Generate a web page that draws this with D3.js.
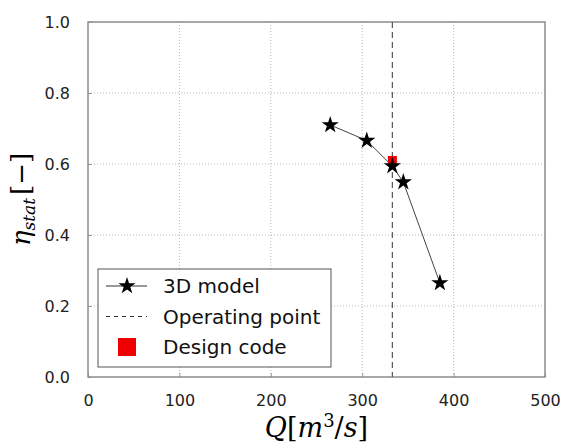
<!DOCTYPE html>
<html>
<head>
<meta charset="utf-8">
<script src="https://cdn.jsdelivr.net/npm/d3@7"></script>
<style>
  body { margin: 0; background: #fff; }
  text { font-family: "DejaVu Sans", sans-serif; }
</style>
</head>
<body>
<div id="chart"></div>
<script>
// data
const flowQ = [265, 305, 333, 345, 385];
const etaStat = [0.71, 0.666, 0.594, 0.549, 0.265];
const operatingQ = [333];
const designQ = [333];
const designEta = [0.61];
const xTicks = [0, 100, 200, 300, 400, 500];
const yTicks = [0.0, 0.2, 0.4, 0.6, 0.8, 1.0];
const legendItems = ["3D model", "Operating point", "Design code"];

const W = 561, H = 448;
const margin = { top: 22, right: 16, bottom: 71, left: 88 };
const width = W - margin.left - margin.right;
const height = H - margin.top - margin.bottom;

const svg = d3.select("#chart").append("svg")
  .attr("width", W).attr("height", H);
const g = svg.append("g")
  .attr("transform", `translate(${margin.left},${margin.top})`);

const x = d3.scaleLinear().domain([0, 500]).range([0, width]);
const y = d3.scaleLinear().domain([0, 1]).range([height, 0]);

// grid
g.selectAll(".gx").data(xTicks.slice(1, -1)).enter().append("line")
  .attr("x1", d => x(d)).attr("x2", d => x(d))
  .attr("y1", 0).attr("y2", height)
  .attr("stroke", "#b8b8b8").attr("stroke-width", 1)
  .attr("stroke-dasharray", "1,2");
g.selectAll(".gy").data(yTicks.slice(1, -1)).enter().append("line")
  .attr("x1", 0).attr("x2", width)
  .attr("y1", d => y(d)).attr("y2", d => y(d))
  .attr("stroke", "#b8b8b8").attr("stroke-width", 1)
  .attr("stroke-dasharray", "1,2");

// axes
const xAxis = d3.axisBottom(x).tickValues(xTicks).tickSize(-4).tickPadding(18)
  .tickFormat(d3.format("d"));
const yAxis = d3.axisLeft(y).tickValues(yTicks).tickSize(-4).tickPadding(18)
  .tickFormat(d3.format(".1f"));

const gx = g.append("g").attr("transform", `translate(0,${height})`).call(xAxis);
const gy = g.append("g").call(yAxis);
[gx, gy].forEach(a => {
  a.select(".domain").remove();
  a.selectAll("line").attr("stroke", "#999");
  a.selectAll("text").attr("font-size", "16px").attr("fill", "#222")
    .style("font-family", "'DejaVu Sans', sans-serif");
});

// frame
g.append("rect").attr("width", width).attr("height", height)
  .attr("fill", "none").attr("stroke", "#8c8c8c").attr("stroke-width", 1.5);

// operating point
g.selectAll(".op").data(operatingQ).enter().append("line")
  .attr("x1", d => x(d)).attr("x2", d => x(d))
  .attr("y1", 0).attr("y2", height)
  .attr("stroke", "#555").attr("stroke-width", 1.2)
  .attr("stroke-dasharray", "6,4");

// 3D model line
const pts = flowQ.map((q, i) => [q, etaStat[i]]);
g.append("path").datum(pts)
  .attr("fill", "none").attr("stroke", "#444").attr("stroke-width", 1)
  .attr("d", d3.line().x(d => x(d[0])).y(d => y(d[1])));

// design code
g.selectAll(".design").data(designQ).enter().append("rect")
  .attr("x", d => x(d) - 4.5).attr("y", (d, i) => y(designEta[i]) - 4.5)
  .attr("width", 9).attr("height", 9).attr("fill", "#ee0000");

const star = d3.symbol().type(d3.symbolStar).size(92);
g.selectAll(".star").data(pts).enter().append("path")
  .attr("d", star)
  .attr("transform", d => `translate(${x(d[0])},${y(d[1])})`)
  .attr("fill", "#000");

// legend
const lg = g.append("g").attr("transform", `translate(10,247)`);
lg.append("rect").attr("width", 233).attr("height", 98)
  .attr("fill", "#fff").attr("stroke", "#555").attr("stroke-width", 1);
legendItems.forEach((label, i) => {
  const cy = 17 + i * 30.5;
  lg.append("text").attr("x", 65).attr("y", cy).attr("dy", "0.35em")
    .attr("font-size", "20px").attr("fill", "#111").text(label);
});
lg.append("line").attr("x1", 8).attr("x2", 49).attr("y1", 17).attr("y2", 17)
  .attr("stroke", "#333");
lg.append("path").attr("d", star).attr("transform", "translate(29,17)");
lg.append("line").attr("x1", 8).attr("x2", 49).attr("y1", 47.5).attr("y2", 47.5)
  .attr("stroke", "#333").attr("stroke-dasharray", "4,4");
lg.append("rect").attr("x", 20).attr("y", 69).attr("width", 18).attr("height", 18)
  .attr("fill", "#ee0000");

// axis labels
const xl = svg.append("text")
  .attr("x", margin.left + width / 2).attr("y", 437)
  .attr("text-anchor", "middle")
  .style("font-family", "'DejaVu Serif', serif").attr("font-size", "27px");
xl.append("tspan").attr("font-style", "italic").text("Q");
xl.append("tspan").text("[");
xl.append("tspan").attr("font-style", "italic").text("m");
xl.append("tspan").attr("font-size", "18px").attr("dy", "-10").text("3");
xl.append("tspan").attr("dy", "10").text("/");
xl.append("tspan").attr("font-style", "italic").text("s");
xl.append("tspan").text("]");

const yl = svg.append("text")
  .attr("transform", `translate(30,${margin.top + height / 2}) rotate(-90)`)
  .attr("text-anchor", "middle")
  .style("font-family", "'DejaVu Serif', serif").attr("font-size", "26px");
yl.append("tspan").attr("font-style", "italic").text("η");
yl.append("tspan").attr("font-style", "italic").attr("font-size", "17px").attr("dy", "5").text("stat");
yl.append("tspan").attr("dy", "-5").attr("dx", "3").text("[−]");
</script>
</body>
</html>
